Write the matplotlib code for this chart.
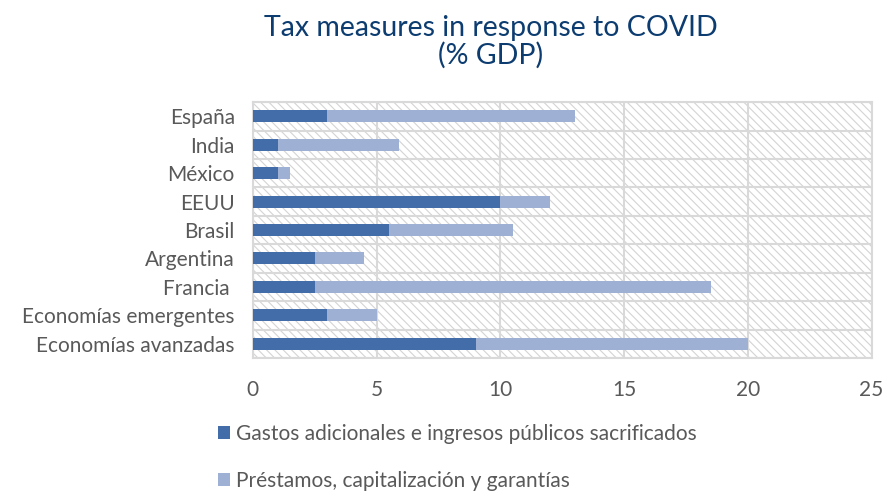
import matplotlib.pyplot as plt
from matplotlib.patches import Rectangle
import numpy as np

plt.rcParams['font.family'] = ['Lato', 'DejaVu Sans']
plt.rcParams['hatch.linewidth'] = 0.8

# Datos (% PIB)
paises = ["España", "India", "México", "EEUU", "Brasil", "Argentina",
          "Francia ", "Economías emergentes", "Economías avanzadas"]
gastos = [3, 1, 1, 10, 5.5, 2.5, 2.5, 3, 9]
total = [13, 5.9, 1.5, 12, 10.5, 4.5, 18.5, 5, 20]
prestamos = [t - g for t, g in zip(total, gastos)]

c_oscuro = "#426da9"
c_claro = "#9fb0d5"
gris = "#d9d9d9"

fig = plt.figure(figsize=(8.84, 4.91), dpi=100)
ax = fig.add_axes([0.286, 0.271, 0.700, 0.521])

# Fondo rayado del área de trazado
ax.add_patch(Rectangle((0, 0), 1, 1, transform=ax.transAxes, facecolor="white",
                       edgecolor="#d4d4d4", hatch="\\\\\\\\", linewidth=0, zorder=0))

y = np.arange(len(paises))
ax.barh(y, gastos, height=0.42, color=c_oscuro, zorder=3,
        label="Gastos adicionales e ingresos públicos sacrificados")
ax.barh(y, prestamos, left=gastos, height=0.42, color=c_claro, zorder=3,
        label="Préstamos, capitalización y garantías")

ax.set_xlim(0, 25)
ax.set_ylim(len(paises) - 0.5, -0.5)
ax.set_xticks([0, 5, 10, 15, 20, 25])
ax.set_yticks(y)
ax.set_yticklabels(paises)
ax.set_yticks(np.arange(len(paises) + 1) - 0.5, minor=True)
ax.tick_params(axis="y", which="minor", length=0)
ax.tick_params(length=0, labelsize=15, labelcolor="#595959")
ax.tick_params(axis="x", pad=16)
ax.tick_params(axis="y", pad=13)

ax.grid(axis="x", color=gris, linewidth=1.5, zorder=1)
ax.grid(axis="y", which="minor", color=gris, linewidth=1.5, zorder=1)
for s in ax.spines.values():
    s.set_color(gris)
    s.set_linewidth(1.5)

fig.text(0.555, 0.915, "Tax measures in response to COVID\n(% GDP)", ha="center",
         va="center", fontsize=20.5, color="#0c3c70", linespacing=1.05)

fig.legend(loc="upper left", bbox_to_anchor=(0.247, 0.137), frameon=False,
           fontsize=15, labelcolor="#595959", handlelength=0.55, handleheight=0.55,
           handletextpad=0.3, labelspacing=1.3, borderpad=0, borderaxespad=0)

fig.savefig("out.png", dpi=100)
